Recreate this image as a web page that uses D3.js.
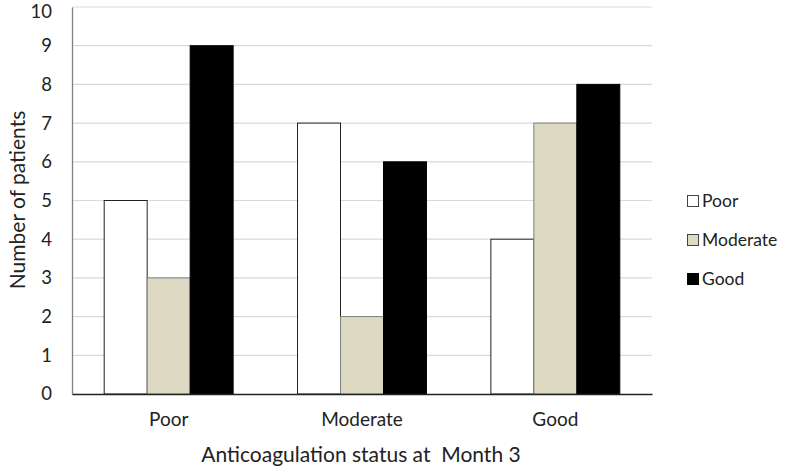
<!DOCTYPE html>
<html><head><meta charset="utf-8">
<script src="https://cdn.jsdelivr.net/npm/d3@7"></script>
<style>body{margin:0;background:#fff}svg{display:block}text{font-family:Lato,"Open Sans",sans-serif;fill:#222}</style>
</head><body><svg id="c" width="790" height="467"></svg>
<script>
const categories = ["Poor", "Moderate", "Good"];
const seriesNames = ["Poor", "Moderate", "Good"];
const poorValues = [5, 7, 4];
const moderateValues = [3, 2, 7];
const goodValues = [9, 6, 8];
const yTicks = [0,1,2,3,4,5,6,7,8,9,10];

const series = [poorValues, moderateValues, goodValues];
const colors = ["#ffffff", "#ddd9c3", "#000000"];
const strokes = ["#222", "#7f7f7f", "#000"];

const svg = d3.select("#c");
const m = {l:72, r:652, t:7, b:394};
const x0 = d3.scaleBand().domain(categories).range([m.l, m.r]).paddingInner(0.333).paddingOuter(0.1665);
const x1 = d3.scaleBand().domain(seriesNames).range([0, x0.bandwidth()]);
const y = d3.scaleLinear().domain([0,10]).range([m.b, m.t]);

svg.append("g").selectAll("line").data(yTicks.filter(d=>d>0)).join("line")
  .attr("x1", m.l).attr("x2", m.r).attr("y1", d=>y(d)).attr("y2", d=>y(d))
  .attr("stroke", "#d9d9d9").attr("stroke-width", 1.2);

const g = svg.append("g");
categories.forEach((c, ci) => {
  seriesNames.forEach((s, si) => {
    g.append("rect")
      .attr("x", x0(c) + x1(s)).attr("width", x1.bandwidth())
      .attr("y", y(series[si][ci])).attr("height", y(0) - y(series[si][ci]))
      .attr("fill", colors[si]).attr("stroke", strokes[si]).attr("stroke-width", 1);
  });
});

const FF = "Lato,'Open Sans',sans-serif";
// y axis
const ya = svg.append("g").attr("transform", `translate(${m.l},0)`)
  .call(d3.axisLeft(y).tickValues(yTicks).tickSize(0).tickPadding(20));
ya.select(".domain").attr("stroke", "#7f7f7f").attr("stroke-width", 1.3);
ya.selectAll("text").style("font-size", "18.5px").style("font-family", FF).attr("fill", "#222");
ya.selectAll(".tick").filter(d => d === 10).select("text").attr("dy", "0.56em");

// x axis
const xa = svg.append("g").attr("transform", `translate(0,${m.b})`)
  .call(d3.axisBottom(x0).tickSize(0).tickPadding(19));
xa.select(".domain").attr("stroke", "#222").attr("stroke-width", 1.3);
xa.selectAll("text").style("font-size", "19px").style("font-family", FF).attr("fill", "#222");

svg.append("text").attr("x", 361).attr("y", 462).attr("text-anchor", "middle")
  .style("font-size", "21px").text("Anticoagulation status at\u00a0 Month 3");
svg.append("text").attr("transform", "translate(25,200) rotate(-90)").attr("text-anchor", "middle")
  .style("font-size", "21px").text("Number of patients");

// legend
const lg = svg.append("g");
seriesNames.forEach((s, i) => {
  const yy = 201 + i * 39;
  lg.append("rect").attr("x", 687.5).attr("y", yy - 5.5).attr("width", 11).attr("height", 11)
    .attr("fill", colors[i]).attr("stroke", i===2 ? "#000" : "#444").attr("stroke-width", 1);
  lg.append("text").attr("x", 702).attr("y", yy).attr("dy", "0.35em")
    .style("font-size", "17.5px").text(s);
});
</script></body></html>
